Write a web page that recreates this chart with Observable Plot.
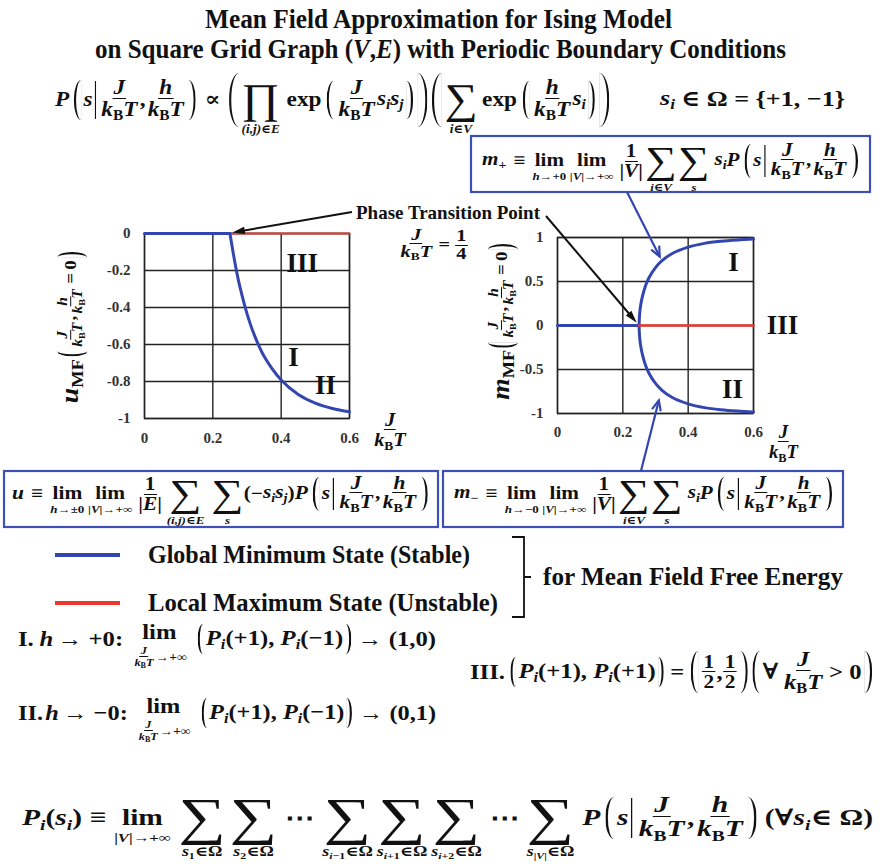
<!DOCTYPE html>
<html>
<head>
<meta charset="utf-8">
<script src="https://cdn.jsdelivr.net/npm/d3@7"></script>
<script src="https://cdn.jsdelivr.net/npm/@observablehq/plot@0.6"></script>
<style>
  html, body { margin: 0; padding: 0; background: #fff; }
  #page { position: relative; width: 880px; height: 867px; overflow: hidden; background: #fff; }
  .chart { position: absolute; }
  .f { position: absolute; left: 0; top: 0; display: flex; align-items: center; white-space: nowrap;
       font-family: "Liberation Serif", "DejaVu Serif", serif; font-weight: bold; color: #111;
       transform-origin: 0 50%; line-height: 1.1; }
  .f.title { line-height: 0.9; }
  .f i { font-style: italic; }
  .sb { font-size: 0.66em; vertical-align: -0.3em; line-height: 1; }
  .fr { display: inline-flex; flex-direction: column; align-items: center; margin: 0 1px; vertical-align: middle; }
  .fr > span { display: block; line-height: 1.02; padding: 0 1px; white-space: nowrap; }
  .fr > span:first-child { border-bottom: 1.5px solid #111; }
  .op { display: inline-flex; flex-direction: column; align-items: center; }
  .op > .sym { line-height: 1.08; font-weight: normal; }
  .op > .lim { line-height: 1.1; }
  .op > .sub { line-height: 1.05; display: block; text-align: center; white-space: nowrap; }
  .pa { display: inline-block; box-sizing: border-box; margin: 0 2px; }
  .vb { display: inline-block; border-left: 1.7px solid #111; }
  .gap { display: inline-block; }
  #overlay { position: absolute; left: 0; top: 0; pointer-events: none; }
</style>
</head>
<body>
<div id="page"></div>
<script>
// ---------- data ----------
const xTicks = [0, 0.2, 0.4, 0.6];
const uTicks = [0, -0.2, -0.4, -0.6, -0.8, -1];
const mTicks = [1, 0.5, 0, -0.5, -1];

const J_c = 0.25;                       // phase transition point J/kBT = 1/4

// energy per edge u_MF(J/kBT, h/kBT = 0), global-minimum branch
const J_u      = [0, 0.25, 0.26, 0.27, 0.28, 0.30, 0.32, 0.35, 0.40, 0.45, 0.50, 0.55, 0.60];
const u_stable = [0, 0, -0.109, -0.210, -0.294, -0.433, -0.542, -0.664, -0.792, -0.870, -0.917, -0.946, -0.964];
// unstable (local maximum) branch, m = 0
const J_unstable = [0.25, 0.60];
const u_unstable = [0, 0];

// magnetisation m_MF(J/kBT, h/kBT = 0)
const J_para = [0, 0.25];
const m_para = [0, 0];
const J_ord   = [0.25, 0.2505, 0.251, 0.2525, 0.255, 0.26, 0.27, 0.28, 0.30, 0.32, 0.35, 0.40, 0.45, 0.50, 0.55, 0.60];
const m_plus  = [0, 0.077, 0.109, 0.171, 0.238, 0.330, 0.458, 0.542, 0.658, 0.736, 0.815, 0.890, 0.933, 0.957, 0.972, 0.982];
const m_minus = [0, -0.077, -0.109, -0.171, -0.238, -0.330, -0.458, -0.542, -0.658, -0.736, -0.815, -0.890, -0.933, -0.957, -0.972, -0.982];
const m_unstable = [0, 0];

const regionU = [{J: 0.462, v: -0.16, t: "III"}, {J: 0.436, v: -0.67, t: "I"}, {J: 0.53, v: -0.82, t: "II"}];
const regionM = [{J: 0.539, v: 0.72, t: "I"}, {J: 0.689, v: 0, t: "III"}, {J: 0.536, v: -0.72, t: "II"}];

const legendItems = ["Global Minimum State (Stable)", "Local Maximum State (Unstable)"];

// ---------- style ----------
const BLUE = "#3346b0", RED = "#e8392c", BOX = "#3e50b6", INK = "#111";
const page = document.getElementById("page");
const fmt = d => String(d);
const gridStyle = {stroke: "#222", strokeOpacity: 1, strokeWidth: 1.4};
const plotStyle = {fontFamily: "'Liberation Serif', serif", fontSize: "15px", fontWeight: "bold", color: "#333", background: "transparent", overflow: "visible"};
const labelStyle = {x: "J", y: "v", text: "t", fontSize: 27, fontWeight: "bold", fontFamily: "'Liberation Serif', serif", fill: INK};

// ---------- left chart: u_MF ----------
const uRows = J_u.map((J, i) => ({J, v: u_stable[i]}));
const uBad = J_unstable.map((J, i) => ({J, v: u_unstable[i]}));
const chartU = Plot.plot({
  width: 300, height: 240,
  marginLeft: 54, marginRight: 41, marginTop: 13, marginBottom: 42,
  x: {domain: [0, 0.6]},
  y: {domain: [-1, 0]},
  style: plotStyle,
  marks: [
    Plot.gridX(xTicks, gridStyle),
    Plot.gridY(uTicks, gridStyle),
    Plot.frame({stroke: "#222", strokeWidth: 1.4}),
    Plot.axisX(xTicks, {tickSize: 0, tickPadding: 14, tickFormat: fmt, label: null}),
    Plot.axisY(uTicks, {tickSize: 0, tickPadding: 14, tickFormat: fmt, label: null}),
    Plot.line(uBad, {x: "J", y: "v", stroke: RED, strokeWidth: 2.2}),
    Plot.line(uRows.filter(d => d.J <= J_c), {x: "J", y: "v", stroke: BLUE, strokeWidth: 3}),
    Plot.line(uRows.filter(d => d.J >= J_c), {x: "J", y: "v", stroke: BLUE, strokeWidth: 3, curve: "catmull-rom"}),
    Plot.text(regionU, labelStyle)
  ]
});
const posU = {left: 90, top: 220};
chartU.classList.add("chart");
chartU.style.left = posU.left + "px";
chartU.style.top = posU.top + "px";
page.appendChild(chartU);

// ---------- right chart: m_MF ----------
const branch = [
  ...J_ord.map((J, i) => ({J, v: m_plus[i]})).reverse(),
  ...J_ord.map((J, i) => ({J, v: m_minus[i]})).slice(1)
];
const chartM = Plot.plot({
  width: 300, height: 230,
  marginLeft: 57, marginRight: 47, marginTop: 13, marginBottom: 41,
  x: {domain: [0, 0.6]},
  y: {domain: [-1, 1]},
  style: plotStyle,
  marks: [
    Plot.gridX(xTicks, gridStyle),
    Plot.gridY(mTicks, gridStyle),
    Plot.frame({stroke: "#222", strokeWidth: 1.4}),
    Plot.axisX(xTicks, {tickSize: 0, tickPadding: 13, tickFormat: fmt, label: null}),
    Plot.axisY(mTicks, {tickSize: 0, tickPadding: 14, tickFormat: fmt, label: null}),
    Plot.line(branch, {x: "J", y: "v", stroke: BLUE, strokeWidth: 3, curve: "catmull-rom"}),
    Plot.line(J_para.map((J, i) => ({J, v: m_para[i]})), {x: "J", y: "v", stroke: BLUE, strokeWidth: 3}),
    Plot.line(J_unstable.map((J, i) => ({J, v: m_unstable[i]})), {x: "J", y: "v", stroke: RED, strokeWidth: 2.6}),
    Plot.text(regionM, labelStyle)
  ]
});
const posM = {left: 500, top: 224};
chartM.classList.add("chart");
chartM.style.left = posM.left + "px";
chartM.style.top = posM.top + "px";
page.appendChild(chartM);

// page coordinates from a chart's scales
function scaleFn(chart, name) {
  const s = chart.scale(name);
  return s.apply ? (v => s.apply(v)) : d3.scaleLinear(s.domain, s.range);
}
const uX = scaleFn(chartU, "x"), uY = scaleFn(chartU, "y");
const mX = scaleFn(chartM, "x"), mY = scaleFn(chartM, "y");
const ptU = (J, v) => [posU.left + uX(J), posU.top + uY(v)];
const ptM = (J, v) => [posM.left + mX(J), posM.top + mY(v)];

// ---------- formula helpers ----------
const g = w => `<span class="gap" style="width:${w}px"></span>`;
const S = s => `<span>${s}</span>`;
const V = s => `<span><i>${s}</i></span>`;
const sub = s => `<span class="sb">${s}</span>`;
const kBT = `<i>k</i>${sub("B")}<i>T</i>`;
const si = `<i>s</i>${sub("<i>i</i>")}`;
const sj = `<i>s</i>${sub("<i>j</i>")}`;
const frac = (n, d, fs) => `<span class="fr"${fs ? ` style="font-size:${fs}px"` : ""}><span>${n}</span><span>${d}</span></span>`;
// big operator with its index set underneath (a spacer on top keeps the symbol on the axis)
const op = (sym, s, symFs, subFs) =>
  `<span class="op"><span style="height:${subFs * 1.05}px"></span>` +
  `<span class="sym" style="font-size:${symFs}px">${sym}</span>` +
  `<span class="sub" style="font-size:${subFs}px">${s}</span></span>`;
const lim = (s, subFs) =>
  `<span class="op"><span style="height:${subFs * 1.05}px"></span><span class="lim">lim</span>` +
  `<span class="sub" style="font-size:${subFs}px">${s}</span></span>`;
// thin stretched parenthesis of height h
const par = (c, h) => {
  const w = Math.max(5, h * 0.17);
  const left = c === "(";
  const rad = left ? `${w}px 0 0 ${w}px / ${h / 2}px 0 0 ${h / 2}px` : `0 ${w}px ${w}px 0 / 0 ${h / 2}px ${h / 2}px 0`;
  return `<span class="pa" style="width:${w}px;height:${h}px;border-${left ? "left" : "right"}:2px solid #111;border-radius:${rad}"></span>`;
};
const vbar = h => `<span class="vb" style="height:${h}px"></span>`;
const Pcond = h => V("P") + g(2) + par("(", h) + V("s") + g(2) + vbar(h * 0.95) + g(3) +
  frac("<i>J</i>", kBT) + S(",") + frac("<i>h</i>", kBT) + par(")", h);

function place(html, fs, x, cy, w, cls) {
  const el = document.createElement("div");
  el.className = "f" + (cls ? " " + cls : "");
  el.style.fontSize = fs + "px";
  el.innerHTML = html;
  page.appendChild(el);
  const r = el.getBoundingClientRect();
  el.style.left = x + "px";
  el.style.top = (cy - r.height / 2) + "px";
  if (w) el.style.transform = `scaleX(${w / r.width})`;
  return el;
}
function placeRot(html, fs, cx, cy, len) {
  const el = document.createElement("div");
  el.className = "f";
  el.style.fontSize = fs + "px";
  el.innerHTML = html;
  page.appendChild(el);
  const r = el.getBoundingClientRect();
  el.style.left = (cx - r.width / 2) + "px";
  el.style.top = (cy - r.height / 2) + "px";
  el.style.transformOrigin = "50% 50%";
  el.style.transform = `rotate(-90deg) scaleX(${len / r.width})`;
  return el;
}

// ---------- title ----------
place(S("Mean Field Approximation for Ising Model"), 27, 205, 19, 467, "title");
place(S("on Square Grid Graph (<i>V</i>,<i>E</i>) with Periodic Boundary Conditions"), 27, 95, 49, 691, "title");

// ---------- model definition ----------
place(Pcond(40) + g(6) + S("∝") + g(6) + par("(", 54) +
  op("∏", "<i>(i,j)∈E</i>", 42, 12) + g(6) + S("exp") + g(3) + par("(", 38) +
  frac("<i>J</i>", kBT) + V(si + sj) + par(")", 38) + par(")", 54) + par("(", 54) +
  op("∑", "<i>i∈V</i>", 42, 12) + g(4) + S("exp") + g(3) + par("(", 38) +
  frac("<i>h</i>", kBT) + V(si) + par(")", 38) + par(")", 54), 21, 55, 100, 557);
place(V(si) + g(5) + S("∈ Ω = {+1, −1}"), 22, 660, 99, 185);

// ---------- definition boxes ----------
const mdef = (sign, hl) => `<span><i>m</i>${sub(sign)}</span>` + g(6) + S("≡") + g(6) +
  lim(hl, 11) + g(3) + lim("|<i>V</i>|→+∞", 11) + g(3) + frac("1", "|<i>V</i>|") +
  op("∑", "<i>i∈V</i>", 38, 11) + g(1) + op("∑", "<i>s</i>", 38, 11) + g(4) + V(si) + Pcond(34);
place(mdef("+", "<i>h</i>→+0"), 18, 482, 161, 378);
place(mdef("−", "<i>h</i>→−0"), 18, 454, 494, 380);
place(V("u") + g(6) + S("≡") + g(6) + lim("<i>h</i>→±0", 11) + g(3) + lim("|<i>V</i>|→+∞", 11) + g(3) +
  frac("1", "|<i>E</i>|") + g(2) + op("∑", "<i>(i,j)∈E</i>", 38, 11) + g(6) +
  op("∑", "<i>s</i>", 38, 11) + S("(−") + V(si + sj) + S(")") + Pcond(34), 18, 12, 494, 418);

// ---------- axis titles ----------
place(frac("<i>J</i>", kBT), 19, 372, 431, 36);
place(frac("<i>J</i>", kBT), 19, 767, 443, 33);
placeRot(`<span style="font-size:25px"><i>u</i>${sub("MF")}</span>` + par("(", 30) + frac("<i>J</i>", kBT, 14) +
  S(",") + frac("<i>h</i>", kBT, 14) + g(3) + S("=") + g(3) + S("0") + par(")", 30), 17, 72, 327, 153);
placeRot(`<span style="font-size:25px"><i>m</i>${sub("MF")}</span>` + par("(", 30) + frac("<i>J</i>", kBT, 14) +
  S(",") + frac("<i>h</i>", kBT, 14) + g(3) + S("=") + g(3) + S("0") + par(")", 30), 17, 503, 321, 158);

// ---------- phase transition annotation ----------
place(S("Phase Transition Point"), 19, 356, 213, 184);
place(frac("<i>J</i>", kBT) + g(3) + S("=") + g(3) + frac("1", "4"), 16, 398, 245, 71);

// ---------- legend ----------
place(S(legendItems[0]), 25, 148, 555, 322);
place(S(legendItems[1]), 25, 148, 603, 350);
place(S("for Mean Field Free Energy"), 25, 543, 577, 300);

// ---------- limiting cases ----------
const limJ = frac("<i>J</i>", kBT, 11) + "→+∞";
const PiPair = (a, b) => `<span><i>P</i>${sub("<i>i</i>")}(${a}), <i>P</i>${sub("<i>i</i>")}(${b})</span>`;
place(S("I.") + g(5) + V("h") + g(4) + S("→ +0:") + g(8) + lim(limJ, 12) + g(8) + par("(", 30) +
  PiPair("+1", "−1") + par(")", 30) + g(4) + S("→ (1,0)"), 22, 18, 639, 418);
place(S("II.") + g(2) + V("h") + g(4) + S("→ −0:") + g(8) + lim(limJ, 12) + g(8) + par("(", 30) +
  PiPair("+1", "−1") + par(")", 30) + g(4) + S("→ (0,1)"), 22, 18, 713, 418);
place(S("III.") + g(3) + par("(", 30) + PiPair("+1", "+1") + par(")", 30) + g(4) + S("=") + g(4) +
  par("(", 42) + frac("1", "2", 19) + S(",") + frac("1", "2", 19) + par(")", 42) +
  par("(", 42) + S("∀") + g(3) + frac("<i>J</i>", kBT, 22) + g(4) + S("> 0") + par(")", 42), 22, 470, 672, 404);

// ---------- marginal probability ----------
const sumO = s => op("∑", `<i>s</i>${sub(s)}∈Ω`, 52, 14);
place(`<span><i>P</i>${sub("<i>i</i>")}(<i>s</i>${sub("<i>i</i>")})</span>` + g(6) + S("≡") + g(6) +
  lim("|<i>V</i>|→+∞", 13) + g(6) + sumO("1") + g(3) + sumO("2") + g(6) + S("⋯") + g(6) +
  sumO("<i>i</i>−1") + g(3) + sumO("<i>i</i>+1") + g(3) + sumO("<i>i</i>+2") + g(6) + S("⋯") + g(6) +
  sumO("|<i>V</i>|") + g(6) + Pcond(42) + g(4) + S("(∀") + V(si) + S("∈ Ω)"), 23, 22, 818, 851);

// ---------- overlay: boxes, arrows, legend swatches, bracket ----------
const svg = d3.select(page).append("svg").attr("id", "overlay").attr("width", 880).attr("height", 867);
const boxes = [[471, 136, 399, 56], [4, 471, 434, 56], [443, 471, 400, 56]];
svg.selectAll("rect.box").data(boxes).join("rect").attr("class", "box")
  .attr("x", d => d[0]).attr("y", d => d[1]).attr("width", d => d[2]).attr("height", d => d[3])
  .attr("fill", "none").attr("stroke", BOX).attr("stroke-width", 2.2);

function arrow(from, to, color, width, shorten, headLen, filled) {
  const dx = to[0] - from[0], dy = to[1] - from[1], L = Math.hypot(dx, dy);
  const ux = dx / L, uy = dy / L;
  const tip = [to[0] - ux * shorten, to[1] - uy * shorten];
  const ang = filled ? 0.28 : 0.42;
  const h = s => [tip[0] - headLen * (ux * Math.cos(ang) - s * uy * Math.sin(ang)),
                  tip[1] - headLen * (uy * Math.cos(ang) + s * ux * Math.sin(ang))];
  const a = h(1), b = h(-1);
  svg.append("line").attr("x1", from[0]).attr("y1", from[1])
    .attr("x2", tip[0] - ux * (filled ? headLen * 0.6 : 0)).attr("y2", tip[1] - uy * (filled ? headLen * 0.6 : 0))
    .attr("stroke", color).attr("stroke-width", width);
  if (filled) {
    svg.append("path").attr("d", `M${a}L${tip}L${b}Z`).attr("fill", color);
  } else {
    svg.append("path").attr("d", `M${a}L${tip}L${b}`).attr("fill", "none")
      .attr("stroke", color).attr("stroke-width", width);
  }
}
arrow([352, 212], ptU(J_c, 0), INK, 2, 3, 13, true);
arrow([546, 216], ptM(J_c, 0), INK, 2, 3, 13, true);
arrow([627, 192], ptM(J_ord[9], m_plus[9]), BLUE, 2.2, 4, 11, false);
arrow([641, 471], ptM(J_ord[9], m_minus[9]), BLUE, 2.2, 11, 11, false);

// legend swatches
svg.append("line").attr("x1", 55).attr("x2", 120).attr("y1", 555).attr("y2", 555).attr("stroke", BLUE).attr("stroke-width", 4);
svg.append("line").attr("x1", 55).attr("x2", 120).attr("y1", 603).attr("y2", 603).attr("stroke", RED).attr("stroke-width", 4);
// bracket grouping both states
svg.append("path").attr("d", "M512,537H524V617H512M524,577H531").attr("fill", "none")
  .attr("stroke", INK).attr("stroke-width", 1.8);
</script>
</body>
</html>
